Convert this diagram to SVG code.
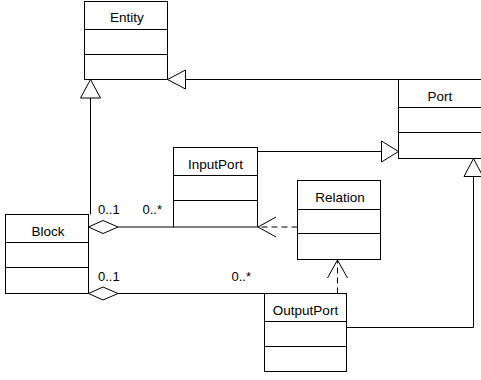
<svg xmlns="http://www.w3.org/2000/svg" width="481" height="380" viewBox="0 0 481 380">
<style>
.box{fill:#fff;stroke:#000;stroke-width:1}
.div{stroke:#000;stroke-width:1;fill:none}
.t{font-family:"Liberation Sans",Arial,sans-serif;font-size:13.5px;fill:#000;text-anchor:middle}
.lbl{font-family:"Liberation Sans",Arial,sans-serif;font-size:13px;fill:#000}
.ln{stroke:#000;stroke-width:1;fill:none}
.dash{stroke:#000;stroke-width:1;fill:none;stroke-dasharray:6 4}
.tri{fill:#fff;stroke:#000;stroke-width:1}
</style>
<rect width="481" height="380" fill="#fff"/>
<g id="connectors">
<path class="ln" d="M398.5,79.5H185.5"/>
<polygon class="tri" points="167.5,79.5 185.5,70 185.5,89"/>
<path class="ln" d="M90.5,214.5V98"/>
<polygon class="tri" points="90.5,79.5 80.5,98 100.5,98"/>
<path class="ln" d="M257.5,151.5H381.5"/>
<polygon class="tri" points="398.5,151.5 381.5,141 381.5,162"/>
<path class="ln" d="M346.5,327.5H473.5V176.5"/>
<polygon class="tri" points="473.5,158.5 464,176.5 483,176.5"/>
<path class="ln" d="M118,227H173.5"/>
<polygon class="tri" points="88.5,227 103,220.5 118,227 103,233.5"/>
<path class="ln" d="M118,293.5H264.5"/>
<polygon class="tri" points="88.5,293.5 103,287 118,293.5 103,300"/>
<path class="dash" d="M297.5,227H258"/>
<path class="ln" d="M276,217L258,227L276,237"/>
<path class="dash" d="M337.5,293.5V260"/>
<path class="ln" d="M327.5,278L337.5,260L347.5,278"/>
<text class="lbl" x="98" y="213.5">0..1</text>
<text class="lbl" x="142.5" y="213.5">0..*</text>
<text class="lbl" x="98" y="280.5">0..1</text>
<text class="lbl" x="231.5" y="280.5">0..*</text>
</g>
<g id="Entity">
<rect class="box" x="84.5" y="1.5" width="83" height="78"/>
<path class="div" d="M84.5,29.5H167.5M84.5,54.5H167.5"/>
<text class="t" x="127" y="22">Entity</text>
</g>
<g id="Port">
<rect class="box" x="398.5" y="79.5" width="83" height="79"/>
<path class="div" d="M398.5,107.5H481.5M398.5,132.5H481.5"/>
<text class="t" x="440" y="100.5">Port</text>
</g>
<g id="InputPort">
<rect class="box" x="173.5" y="147.5" width="84" height="79.5"/>
<path class="div" d="M173.5,175.5H257.5M173.5,200.5H257.5"/>
<text class="t" x="215.5" y="168.5">InputPort</text>
</g>
<g id="Relation">
<rect class="box" x="297.5" y="180.5" width="83" height="79"/>
<path class="div" d="M297.5,209.5H380.5M297.5,233.5H380.5"/>
<text class="t" x="340" y="201.5">Relation</text>
</g>
<g id="Block">
<rect class="box" x="5.5" y="214.5" width="83" height="79"/>
<path class="div" d="M5.5,242.5H88.5M5.5,267.5H88.5"/>
<text class="t" x="48" y="235.5">Block</text>
</g>
<g id="OutputPort">
<rect class="box" x="264.5" y="293.5" width="82" height="78"/>
<path class="div" d="M264.5,321.5H346.5M264.5,346.5H346.5"/>
<text class="t" x="305.5" y="314.5">OutputPort</text>
</g>
</svg>
